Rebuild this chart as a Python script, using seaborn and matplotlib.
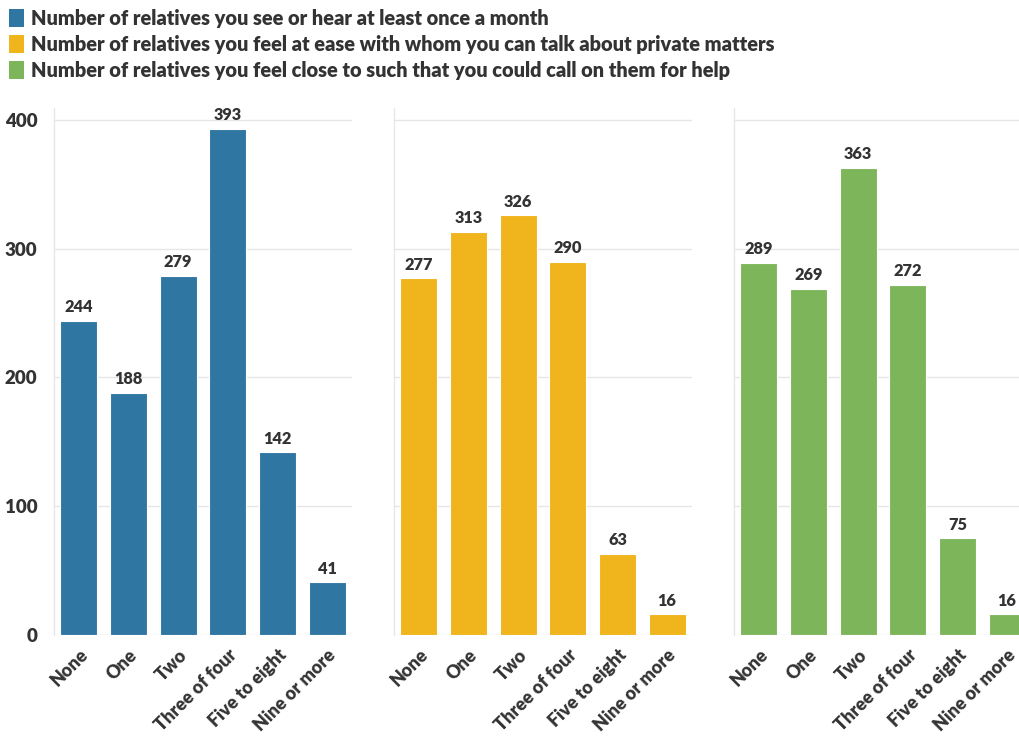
import matplotlib
matplotlib.use("Agg")
import matplotlib.pyplot as plt
import seaborn as sns
import pandas as pd
from matplotlib.patches import Patch

categories = ["None", "One", "Two", "Three of four", "Five to eight", "Nine or more"]
see_monthly = [244, 188, 279, 393, 142, 41]
at_ease = [277, 313, 326, 290, 63, 16]
close_help = [289, 269, 363, 272, 75, 16]
series_names = [
    "Number of relatives you see or hear at least once a month",
    "Number of relatives you feel at ease with whom you can talk about private matters",
    "Number of relatives you feel close to such that you could call on them for help",
]
colors = ["#2f76a3", "#f0b41c", "#7db65a"]
y_ticks = [0, 100, 200, 300, 400]

sns.set_theme(style="white")
plt.rcParams["font.family"] = ["Lato", "DejaVu Sans"]
plt.rcParams["font.weight"] = "bold"
WT = "heavy"

fig = plt.figure(figsize=(10.19, 7.37), dpi=100)
W, H = 1019, 737
lefts = [54, 394, 734]
pw = 298
bottom_px = 635
top_px = 108

text_col = "#333333"
grid_col = "#e6e6e6"

for i, (vals, col) in enumerate(zip([see_monthly, at_ease, close_help], colors)):
    ax = fig.add_axes([lefts[i] / W, (H - bottom_px) / H, pw / W, (bottom_px - top_px) / H])
    df = pd.DataFrame({"cat": categories, "val": vals})
    sns.barplot(data=df, x="cat", y="val", color=col, width=0.75, ax=ax,
                saturation=1, edgecolor="white", linewidth=0.8)
    ax.set_xlim(-0.5, 5.5)
    ax.set_ylim(0, 409.3)
    ax.set_yticks(y_ticks)
    ax.yaxis.grid(True, color=grid_col, linewidth=1)
    ax.set_axisbelow(True)
    for s in ["top", "right", "bottom"]:
        ax.spines[s].set_visible(False)
    ax.spines["left"].set_color(grid_col)
    ax.spines["left"].set_linewidth(1)
    ax.set_xlabel("")
    ax.set_ylabel("")
    ax.tick_params(axis="x", length=6, color=grid_col, width=1, pad=2,
                   labelsize=13, labelcolor=text_col)
    ax.tick_params(axis="y", length=8, color=grid_col, width=1, pad=4,
                   labelsize=13.5, labelcolor=text_col)
    if i > 0:
        ax.tick_params(axis="y", labelleft=False)
    for lab in ax.get_xticklabels():
        lab.set_rotation(45)
        lab.set_ha("right")
        lab.set_rotation_mode("anchor")
        lab.set_fontweight(WT)
    for lab in ax.get_yticklabels():
        lab.set_fontweight(WT)
    ax.bar_label(ax.containers[0], labels=[str(v) for v in vals], padding=4,
                 fontsize=11.8, fontweight=WT, color=text_col)

handles = [Patch(facecolor=c, edgecolor="none") for c in colors]
leg = fig.legend(handles, series_names, loc="upper left", bbox_to_anchor=(0.0, 1.0),
                 frameon=False, handlelength=0.75, handleheight=1.0, handletextpad=0.35,
                 labelspacing=0.34, borderpad=0.25, borderaxespad=0.2,
                 prop={"size": 14.4, "weight": WT})
for t in leg.get_texts():
    t.set_color(text_col)

fig.savefig("out.png", dpi=100)
